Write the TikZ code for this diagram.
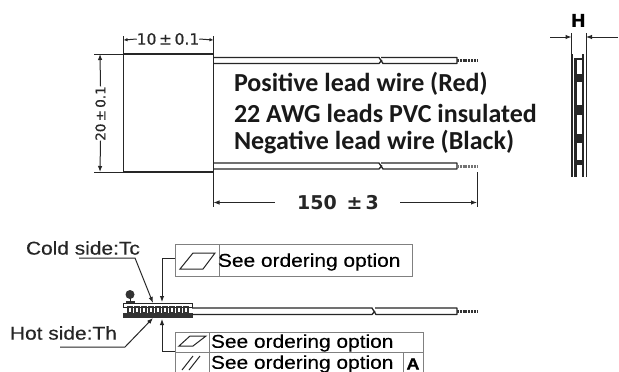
\documentclass[tikz,border=0pt]{standalone}
\usepackage{fontspec}
\setmainfont{Liberation Sans}[FakeStretch=1.13,FakeBold=0.25]
\newfontfamily\calib{Carlito}
\newfontfamily\dejav{DejaVu Sans}
\newfontfamily\dejavb{DejaVu Sans}[FakeBold=0.6]
\usetikzlibrary{arrows.meta}
\tikzset{
  every node/.style={inner sep=0pt,outer sep=0pt},
  line/.style={black!85,line width=1pt},
  wire/.style={black!85,line width=1.3pt,line join=round},
  tipped/.style={line,-{Latex[length=6pt,width=4.5pt]}},
  boxline/.style={black!50,line width=0.9pt},
  lead label/.style={font=\calib\bfseries\fontsize{26}{30}\selectfont,anchor=west,text=black!90},
  dim label/.style={font=\dejavb\fontsize{15.5}{18}\selectfont,text=black!85},
  side label/.style={font=\fontsize{18.5}{21}\selectfont,anchor=west,text=black!85},
  option label/.style={font=\fontsize{18.5}{21}\selectfont,anchor=west,text=black},
  strand/.style={black!80,line width=3pt,dash pattern=on 2pt off 0.8pt}
}
\begin{document}
\begin{tikzpicture}[x=1pt,y=-1pt]
\useasboundingbox (0,0) rectangle (619,372);
\fill[white] (0,0) rectangle (619,372);
% Main module
\node[draw=black!85,line width=1.2pt,minimum width=90pt,minimum height=118pt,anchor=north west] (body) at (123.5,54) {};
% width dim
\coordinate (wa) at (123.5,36); \coordinate (wb) at (213.5,36);
\draw[line] (body.north west) -- (wa);
\draw[line] (body.north east) -- (wb);
\node[dim label] (wlab) at (168,39) {10\,±\,0.1};
\draw[line,{Latex[length=4pt,width=3.5pt]}-] (123.5,40) -- (wlab.west);
\draw[line,{Latex[length=4pt,width=3.5pt]}-] (213.5,40) -- (wlab.east);
% height dim
\draw[line] (body.north west) -- (94,54);
\draw[line] (body.south west) -- (94,172);
\node[dim label,font=\dejavb\fontsize{13.5}{16}\selectfont,rotate=90] (hlab) at (100.5,113.5) {20\,±\,0.1};
\draw[line,{Latex[length=6pt,width=4.5pt]}-] (100,54) -- (hlab.east);
\draw[line,{Latex[length=6pt,width=4.5pt]}-] (100,172) -- (hlab.west);
% Wires, upper
\draw[wire] (213.5,57.5) -- (379,57.5) -- (383,63.5) -- (457,63.5) -- (457,57.5) -- (381,57.5);
\draw[wire] (213.5,63.5) -- (379,63.5) -- (382,60);
\draw[strand] (457,60.5) -- (477,60.5);
% Wires, lower
\draw[wire] (213.5,163) -- (379,163) -- (383,169) -- (457,169) -- (457,163) -- (381,163);
\draw[wire] (213.5,169) -- (379,169) -- (382,165.5);
\draw[strand,black!55] (457,166) -- (477,166);
% Lead labels
\node[lead label] (l1) at (234,84) {Positive lead wire (Red)};
\node[lead label] (l2) at (234,113) {22 AWG leads PVC insulated};
\node[lead label] (l3) at (234,142) {Negative lead wire (Black)};
% 150 dim
\draw[line] (213.5,172) -- (213.5,207);
\draw[line] (477,172) -- (477,207);
\node[font=\dejav\bfseries\fontsize{19}{22}\selectfont,text=black!85] (len) at (338,203) {150 \,±\,3};
\draw[line,{Latex[length=6pt,width=4.5pt]}-] (213.5,202.5) -- (275,202.5);
\draw[line,-{Latex[length=6pt,width=4.5pt]}] (400,202.5) -- (477,202.5);
% Side view
\node[font=\dejav\bfseries\fontsize{18}{21}\selectfont] (H) at (578.5,20.5) {H};
\draw[line] (571.5,33) -- (571.5,55);
\draw[line] (586,33) -- (586,55);
\draw[line,-{Latex[length=6pt,width=4.5pt]}] (550,37) -- (571.5,37);
\draw[line,-{Latex[length=6pt,width=4.5pt]}] (618,37) -- (586,37);
\draw[line,line width=1.6pt] (572,54) -- (572,177);
\draw[line,line width=2.8pt] (575.5,58) -- (575.5,177);
\draw[line,line width=1.2pt] (583,54) -- (583,177);
\draw[line,line width=1.6pt] (586.5,54) -- (586.5,177);
\foreach \ya/\yb in {58/60,74/82,105/115,134/143,160/165}
  \fill[black!85] (575,\ya) rectangle (583,\yb);
% Lower view
\node[side label] (cold) at (26,248) {Cold side:Tc};
\node[side label] (hot) at (10,333) {Hot side:Th};
\coordinate (mt) at (153,303); \coordinate (mb) at (153,318);
\draw[tipped] (79,258) -- (135,258) -- (mt);
\draw[tipped] (60,347) -- (125,347) -- (mb);
% Module side view
\draw[line] (123,303.5) rectangle (192.5,307);
\fill[black!80] (123,313) rectangle (192.5,317.5);
\foreach \xx in {128,135,...,184} \draw[black!80,line width=1.1pt] (\xx,307) rectangle (\xx+4,313);
\fill[black!80] (130,294.5) circle (4.5);
\fill[black!80] (126,301) rectangle (135,303);
\draw[line] (130,298) -- (130,302);
% Lower wires
\draw[wire] (192,308) -- (372,308) -- (376,314.5) -- (457,314.5) -- (457,308) -- (375,308);
\draw[wire] (192,314.5) -- (372,314.5) -- (375,311);
\draw[strand] (457,311.5) -- (478,311.5);
% Option box 1
\draw[boxline] (175,244) rectangle (412,276);
\draw[boxline] (219,244) -- (219,276);
\draw[line] (180,269) -- (203,269) -- (215,253) -- (193,253) -- cycle;
\node[option label] (o1) at (218,262) {See ordering option};
% Option box 2
\draw[boxline] (175,372) -- (175,332) -- (423,332) -- (423,372);
\draw[boxline] (175,352.5) -- (423,352.5);
\draw[boxline] (209,332) -- (209,372);
\draw[boxline] (403,352.5) -- (403,372);
\draw[line] (179,346) -- (193,346) -- (206,336) -- (190,336) -- cycle;
\draw[line] (182,370) -- (193,356);
\draw[line] (189,370) -- (200,356);
\node[option label] (o2) at (211,343) {See ordering option};
\node[option label] (o3) at (211,364) {See ordering option};
\node[font=\bfseries\fontsize{16}{18}\selectfont] (dat) at (413,364) {A};
% Leaders from boxes
\coordinate (bc1) at (175,258); \coordinate (bc2) at (175,351);
\draw[tipped] (bc1) -- (162,258) -- (162,302);
\draw[tipped] (bc2) -- (162,351) -- (162,319);
\end{tikzpicture}
\end{document}
